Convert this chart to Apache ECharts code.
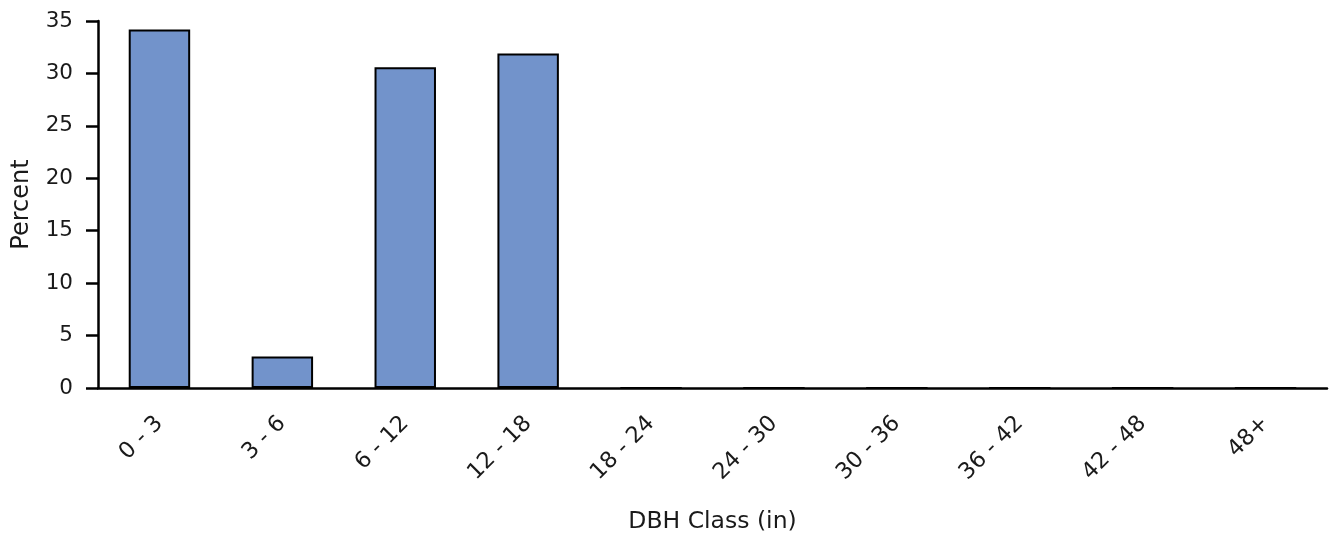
<!DOCTYPE html>
<html>
<head>
<meta charset="utf-8">
<script src="https://cdn.jsdelivr.net/npm/echarts@6/dist/echarts.min.js"></script>
<style>
html,body{margin:0;padding:0;background:#fff;}
#chart{width:1330px;height:535px;}
</style>
</head>
<body>
<div id="chart"></div>
<script>
const categories = ['0 - 3','3 - 6','6 - 12','12 - 18','18 - 24','24 - 30','30 - 36','36 - 42','42 - 48','48+'];
const percentValues = [34.2, 3.0, 30.6, 31.9, 0, 0, 0, 0, 0, 0];
const xTitle = 'DBH Class (in)';
const yTitle = 'Percent';

const chart = echarts.init(document.getElementById('chart'));
chart.setOption({
  animation: false,
  grid: {left: 98, right: 3, top: 21, bottom: 147, containLabel: false, outerBoundsMode: 'none'},
  xAxis: {
    type: 'category',
    z: 5,
    data: categories,
    name: xTitle,
    nameLocation: 'middle',
    nameGap: 122,
    nameTextStyle: {fontFamily: 'DejaVu Sans', fontSize: 23.5, color: '#1a1a1a'},
    axisLine: {lineStyle: {color: '#000', width: 2.5}},
    axisTick: {alignWithLabel: true, length: 13, lineStyle: {color: '#000', width: 2.5}},
    axisLabel: {rotate: 45, margin: 32, fontFamily: 'DejaVu Sans', fontSize: 22.5, color: '#1a1a1a', interval: 0}
  },
  yAxis: {
    type: 'value',
    z: 5,
    min: 0, max: 35, interval: 5,
    name: yTitle,
    nameLocation: 'middle',
    nameGap: 64,
    nameTextStyle: {fontFamily: 'DejaVu Sans', fontSize: 24, color: '#1a1a1a'},
    axisLine: {show: true, lineStyle: {color: '#000', width: 2.5}},
    axisTick: {show: true, length: 12, lineStyle: {color: '#000', width: 2.5}},
    axisLabel: {margin: 25, fontFamily: 'DejaVu Sans', fontSize: 21.5, color: '#1a1a1a'},
    splitLine: {show: false}
  },
  series: [{
    type: 'bar',
    data: percentValues,
    barWidth: '50%',
    z: 1,
    itemStyle: {color: '#7293cb', borderColor: '#000', borderWidth: 2}
  }]
});
</script>
</body>
</html>
